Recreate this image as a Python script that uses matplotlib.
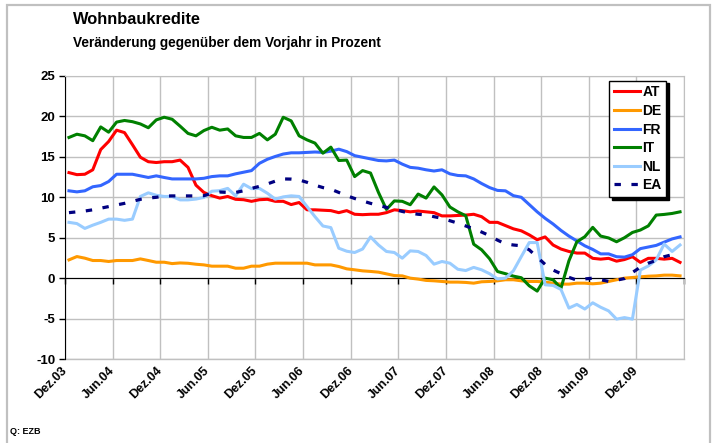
import matplotlib
matplotlib.use('Agg')
import matplotlib.pyplot as plt
from matplotlib.patches import Rectangle
import numpy as np

plt.rcParams['font.family'] = ['Liberation Sans', 'DejaVu Sans']

tick_labels = ['Dez.03', 'Jun.04', 'Dez.04', 'Jun.05', 'Dez.05', 'Jun.06', 'Dez.06',
               'Jun.07', 'Dez.07', 'Jun.08', 'Dez.08', 'Jun.09', 'Dez.09']

# monthly values, Dez.03 ... Mai.10
AT = [13.05, 12.8, 12.85, 13.4, 15.9, 16.9, 18.3, 18.0, 16.5, 14.95,
      14.4, 14.3, 14.4, 14.4, 14.6, 13.7, 11.5, 10.6, 10.2, 9.9,
      10.1, 9.75, 9.7, 9.5, 9.7, 9.75, 9.5, 9.5, 9.1, 9.35,
      8.45, 8.45, 8.4, 8.35, 8.1, 8.35, 7.9, 7.85, 7.9, 7.9,
      8.1, 8.45, 8.35, 8.2, 8.3, 8.2, 8.1, 7.7, 7.7, 7.75,
      7.8, 7.9, 7.6, 6.9, 6.9, 6.5, 6.1, 5.85, 5.35, 4.75,
      5.1, 4.1, 3.6, 3.3, 3.1, 3.1, 2.45, 2.35, 2.45, 2.1,
      2.3, 2.65, 1.95, 2.45, 2.45, 2.35, 2.45, 1.95]
DE = [2.26, 2.67, 2.47, 2.18, 2.18, 2.06, 2.18, 2.18, 2.18, 2.38,
      2.18, 1.97, 1.97, 1.8, 1.88, 1.84, 1.72, 1.64, 1.48, 1.48,
      1.48, 1.23, 1.23, 1.48, 1.48, 1.73, 1.85, 1.85, 1.85, 1.85,
      1.85, 1.64, 1.64, 1.64, 1.44, 1.15, 1.03, 0.9, 0.83, 0.74,
      0.53, 0.32, 0.28, 0.0, -0.12, -0.28, -0.33, -0.41, -0.49, -0.49,
      -0.53, -0.62, -0.45, -0.41, -0.33, -0.2, -0.2, -0.33, -0.41, -0.41,
      -0.49, -0.62, -0.74, -0.74, -0.62, -0.62, -0.7, -0.62, -0.41, -0.2,
      0.0, 0.08, 0.16, 0.24, 0.28, 0.37, 0.37, 0.28]
FR = [10.8, 10.67, 10.8, 11.3, 11.45, 11.95, 12.85, 12.85, 12.85, 12.65,
      12.45, 12.65, 12.45, 12.27, 12.27, 12.27, 12.27, 12.35, 12.56, 12.65,
      12.65, 12.9, 13.1, 13.3, 14.2, 14.7, 15.05, 15.35, 15.5, 15.5,
      15.55, 15.6, 15.55, 15.7, 15.95, 15.65, 15.15, 14.95, 14.75, 14.55,
      14.5, 14.6, 14.1, 13.7, 13.6, 13.4, 13.25, 13.4, 12.9, 12.7,
      12.65, 12.27, 11.7, 11.2, 10.85, 10.8, 10.2, 10.0, 9.1, 8.2,
      7.4, 6.7, 5.9, 5.2, 4.6, 4.0, 3.55, 3.0, 3.0, 2.65,
      2.6, 2.9, 3.65, 3.85, 4.05, 4.45, 4.85, 5.1]
IT = [17.4, 17.8, 17.6, 17.0, 18.7, 18.05, 19.3, 19.5, 19.35, 19.07,
      18.6, 19.57, 19.9, 19.65, 18.8, 17.9, 17.6, 18.25, 18.66, 18.3,
      18.45, 17.6, 17.4, 17.4, 17.9, 17.1, 17.8, 19.9, 19.45, 17.6,
      17.1, 16.7, 15.45, 16.2, 14.55, 14.6, 12.56, 13.3, 13.0, 10.6,
      8.5, 9.55, 9.5, 9.08, 10.4, 9.9, 11.28, 10.3, 8.8, 8.2,
      7.72, 4.2, 3.5, 2.4, 0.82, 0.55, 0.25, 0.05, -0.95, -1.6,
      0.0, -0.2, -1.24, 2.15, 4.5, 5.12, 6.28, 5.2, 4.97, 4.5,
      5.0, 5.65, 5.95, 6.46, 7.8, 7.88, 8.0, 8.2]
NL = [6.9, 6.75, 6.15, 6.55, 6.9, 7.3, 7.3, 7.15, 7.3, 10.1,
      10.55, 10.25, 10.1, 10.1, 9.68, 9.68, 9.78, 9.98, 10.75, 10.82,
      11.1, 10.18, 11.62, 11.07, 11.1, 10.5, 9.77, 10.05, 10.18, 10.1,
      8.85, 7.6, 6.45, 6.25, 3.7, 3.33, 3.17, 3.6, 5.1, 4.1,
      3.3, 3.17, 2.47, 3.37, 3.3, 2.8, 1.73, 2.06, 1.85, 1.1,
      0.94, 1.33, 1.03, 0.55, -0.1, 0.0, 0.9, 2.67, 4.4, 4.4,
      -0.82, -0.9, -1.4, -3.7, -3.25, -3.82, -3.05, -3.6, -4.05, -5.07,
      -4.88, -5.07, 1.0, 1.5, 2.26, 4.22, 3.3, 4.1]
EA = [8.1, 8.2, 8.3, 8.45, 8.65, 8.85, 9.05, 9.25, 9.5, 9.75,
      9.9, 10.0, 10.15, 10.17, 10.17, 10.17, 10.17, 10.2, 10.5, 10.65,
      10.6, 10.6, 10.8, 11.1, 11.35, 11.65, 12.0, 12.27, 12.25, 12.15,
      11.85, 11.5, 11.2, 11.0, 10.6, 10.2, 9.85, 9.55, 9.25, 9.0,
      8.75, 8.5, 8.25, 8.03, 7.9, 7.82, 7.6, 7.4, 7.1, 6.8,
      6.45, 6.1, 5.7, 5.25, 4.7, 4.24, 4.1, 4.0, 3.5, 2.6,
      1.7, 1.0, 0.55, 0.1, -0.25, -0.1, 0.0, -0.2, -0.4, -0.25,
      -0.05, 0.7, 1.35, 1.85, 2.2, 2.65, 2.9, 3.0]

series_names = ['AT', 'DE', 'FR', 'IT', 'NL', 'EA']
series_values = [AT, DE, FR, IT, NL, EA]
series_colors = ['#ff0000', '#ff9900', '#3366ff', '#008000', '#99ccff', '#000080']

W, H = 715, 443
fig = plt.figure(figsize=(W / 100, H / 100), dpi=100)

# outer frame
fig.patches.append(Rectangle((7 / W, -0.05), 703 / W, 1.05 - 5 / H, transform=fig.transFigure,
                             fill=False, edgecolor='#c0c0c0', linewidth=1.6))

L, R, T, B = 65, 684, 76, 359
ax = fig.add_axes([L / W, 1 - B / H, (R - L) / W, (B - T) / H])

x = np.arange(len(AT))
for name, vals, col in zip(series_names, series_values, series_colors):
    if name == 'EA':
        ax.plot(x, vals, color=col, lw=2.3, dashes=(2.0, 3.3), label=name, zorder=3)
    else:
        ax.plot(x, vals, color=col, lw=2.2, label=name, solid_joinstyle='round', zorder=3)

ax.set_xlim(-0.5, len(AT) - 0.5)
ax.set_ylim(-10, 25)
ax.set_yticks(range(-10, 30, 5))
ax.set_yticklabels([str(v) for v in range(-10, 30, 5)], fontweight='bold', fontsize=9.5)
ax.set_xticks(np.arange(-0.5, len(AT), 6))
ax.grid(True, color='#c0c0c0', lw=1)
ax.set_axisbelow(True)

for s in ['top', 'right']:
    ax.spines[s].set_color('#c0c0c0')
ax.spines['left'].set_color('black')
ax.spines['bottom'].set_position(('data', 0))
ax.spines['bottom'].set_color('black')
ax.spines['bottom'].set_zorder(2.5)
ax.axhline(-10, color='#c0c0c0', lw=1, clip_on=False, zorder=1)
ax.tick_params(axis='x', direction='out', length=4, width=1, labelbottom=False, color='black')
ax.tick_params(axis='y', direction='out', length=4, width=1, pad=3, color='black')

sec = ax.secondary_xaxis('bottom')
sec.set_xticks(np.arange(-0.5, 6 * len(tick_labels) - 0.5, 6))
sec.set_xticklabels(tick_labels, rotation=45, ha='right', va='center',
                    rotation_mode='anchor', fontweight='bold', fontsize=9)
sec.tick_params(axis='x', length=0, pad=7)
sec.spines['bottom'].set_visible(False)

leg = ax.legend(loc='upper left', bbox_to_anchor=((609 - L) / (R - L), (B - 80.5) / (B - T)),
                borderaxespad=0, frameon=True, fancybox=False, edgecolor='black',
                shadow={'facecolor': 'black', 'edgecolor': 'black', 'alpha': 1},
                prop={'weight': 'bold', 'size': 10}, handlelength=1.85,
                handletextpad=0.2, labelspacing=0.33, borderpad=0.35)
leg.get_frame().set_linewidth(1.0)

fig.text(73 / W, 1 - 20 / H, 'Wohnbaukredite', fontsize=11.8, fontweight='bold', va='center')
fig.text(73 / W, 1 - 43 / H, 'Veränderung gegenüber dem Vorjahr in Prozent',
         fontsize=9.8, fontweight='bold', va='center')
fig.text(10 / W, 1 - 432 / H, 'Q: EZB', fontsize=6.5, fontweight='bold', va='center')

fig.savefig('out.png', dpi=100)
